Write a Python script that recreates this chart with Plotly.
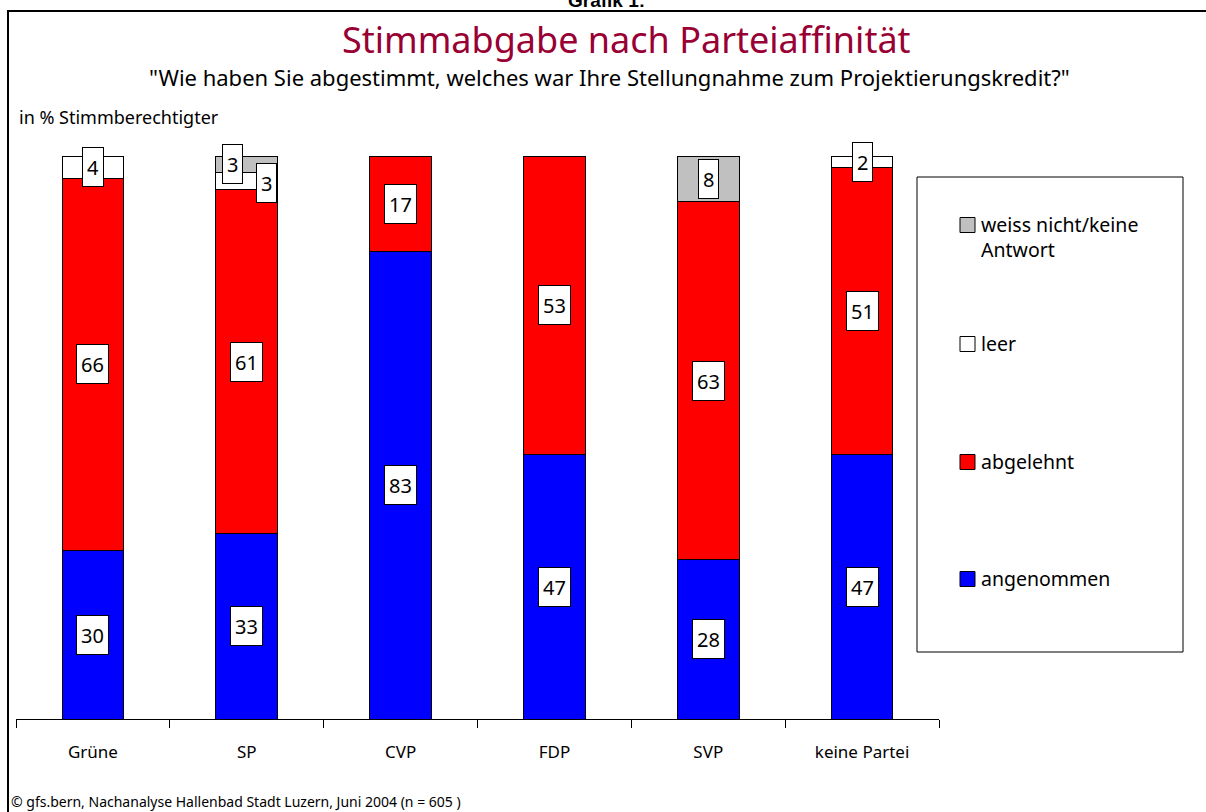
import plotly.graph_objects as go

categories = ["Grüne", "SP", "CVP", "FDP", "SVP", "keine Partei"]
angenommen = [30, 33, 83, 47, 28, 47]
abgelehnt = [66, 61, 17, 53, 63, 51]
leer = [4, 3, 0, 0, 0, 2]
weiss_nicht = [0, 3, 0, 0, 8, 0]

series = [
    ("angenommen", angenommen, "#0000FF"),
    ("abgelehnt", abgelehnt, "#FF0000"),
    ("leer", leer, "#FFFFFF"),
    ("weiss nicht/keine<br>Antwort", weiss_nicht, "#C0C0C0"),
]

FONT = "Noto Sans"

fig = go.Figure()
for name, vals, col in series:
    fig.add_trace(go.Bar(
        x=categories, y=vals, name=name, width=0.4,
        marker=dict(color=col, line=dict(color="#000000", width=1)),
        showlegend=False, hoverinfo="skip",
    ))

PL, PR, PT, PB = 16, 939, 156, 719
W, H = 1206, 812

fig.update_layout(
    barmode="stack", barnorm="percent",
    width=W, height=H,
    margin=dict(l=PL, r=W - PR, t=PT, b=H - PB),
    paper_bgcolor="white", plot_bgcolor="white",
    font=dict(family=FONT, color="#000000"),
    xaxis=dict(type="category", range=[-0.5, 5.5], tickson="boundaries",
               ticks="outside", ticklen=8, tickcolor="#000000",
               showline=True, linecolor="#000000", linewidth=1,
               showgrid=False, tickfont=dict(size=17, family=FONT),
               ticklabelstandoff=18),
    yaxis=dict(visible=False, range=[0, 100], fixedrange=True),
)

# value labels
totals = [sum(s[1][i] for s in series) for i in range(len(categories))]
shifts = {(1, 3): (-14, 0), (1, 2): (20, -2)}
for i, cat in enumerate(categories):
    base = 0.0
    for k, (name, vals, col) in enumerate(series):
        v = vals[i]
        h = v * 100.0 / totals[i]
        if v > 0:
            dx, dy = shifts.get((i, k), (0, 0))
            fig.add_annotation(
                x=cat, y=base + h / 2, xref="x", yref="y",
                text=str(v), showarrow=False,
                font=dict(size=20, family=FONT, color="#000000"),
                bgcolor="#FFFFFF", bordercolor="#000000", borderwidth=1,
                borderpad=4, height=30,
                xshift=dx, yshift=dy,
            )
        base += h

def px(x):
    return (x - PL) / (PR - PL)
def py(y):
    return (PB - y) / (PB - PT)

# frame lines
fig.add_shape(type="line", xref="paper", yref="paper",
              x0=px(7), x1=px(1210), y0=py(11), y1=py(11),
              line=dict(color="#000000", width=2))
fig.add_shape(type="line", xref="paper", yref="paper",
              x0=px(8), x1=px(8), y0=py(10), y1=py(815),
              line=dict(color="#000000", width=2))

def text_at(text, x, y, size, color="#000000", family=FONT, xanchor="center"):
    fig.add_annotation(text=text, xref="paper", yref="paper",
                       x=px(x), y=py(y), xanchor=xanchor, yanchor="middle",
                       showarrow=False,
                       font=dict(size=size, family=family, color=color))

# titles
text_at("<b>Grafik 1:</b>", 606, 1, 19, family="Liberation Sans")
text_at("Stimmabgabe nach Parteiaffinität", 626, 40, 36, color="#990033")
text_at('"Wie haben Sie abgestimmt, welches war Ihre Stellungnahme zum Projektierungskredit?"',
        609, 77, 22)
text_at("in % Stimmberechtigter", 17, 117, 18, xanchor="left")
text_at("© gfs.bern, Nachanalyse Hallenbad Stadt Luzern, Juni 2004 (n = 605 )",
        9, 801, 14, xanchor="left")

# legend (drawn manually)
fig.add_shape(type="rect", xref="paper", yref="paper",
              x0=px(917), x1=px(1183), y0=py(177), y1=py(652),
              line=dict(color="#000000", width=1), fillcolor="white")
legend_items = [
    ("weiss nicht/keine<br>Antwort", "#C0C0C0", 225),
    ("leer", "#FFFFFF", 344),
    ("abgelehnt", "#FF0000", 462),
    ("angenommen", "#0000FF", 579),
]
for text, col, yc in legend_items:
    fig.add_shape(type="rect", xref="paper", yref="paper",
                  x0=px(960), x1=px(975), y0=py(yc - 7.5), y1=py(yc + 7.5),
                  line=dict(color="#000000", width=1), fillcolor=col)
    fig.add_annotation(text=text, xref="paper", yref="paper",
                       x=px(979), y=py(yc - 16), xanchor="left", yanchor="top",
                       align="left", showarrow=False,
                       font=dict(size=19.5, family=FONT, color="#000000"))

fig.write_html("out.html", config={"displayModeBar": False},
               post_script="document.body.style.margin='0';")
